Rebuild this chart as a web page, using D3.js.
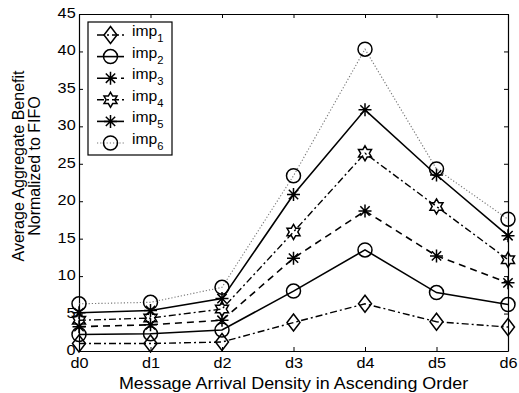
<!DOCTYPE html>
<html>
<head>
<meta charset="utf-8">
<script src="https://cdn.jsdelivr.net/npm/d3@7"></script>
<style>
  html, body { margin: 0; padding: 0; background: #fff; }
  svg { display: block; }
  text { font-family: "Liberation Sans", Arial, Helvetica, sans-serif; fill: #000; }
</style>
</head>
<body>
<svg id="chart" width="519" height="393"></svg>
<script>
// Arrival-density levels on the x axis
const categories = ["d0", "d1", "d2", "d3", "d4", "d5", "d6"];

// Average aggregate benefit (normalized to FIFO) for each improvement
const imp1 = [1.0, 1.0, 1.2, 3.8, 6.3, 3.9, 3.2];
const imp2 = [2.2, 2.3, 2.8, 8.0, 13.5, 7.8, 6.2];
const imp3 = [3.25, 3.5, 4.1, 12.4, 18.7, 12.7, 9.1];
const imp4 = [4.1, 4.4, 5.6, 15.9, 26.4, 19.3, 12.2];
const imp5 = [5.1, 5.4, 7.0, 20.9, 32.2, 23.5, 15.4];
const imp6 = [6.3, 6.5, 8.5, 23.4, 40.3, 24.3, 17.6];

const yTicks = [0, 5, 10, 15, 20, 25, 30, 35, 40, 45];
const seriesNames = ["imp1", "imp2", "imp3", "imp4", "imp5", "imp6"];

const series = [
  { name: seriesNames[0], values: imp1, dash: "7,3,2,3", width: 1.4, color: "#000", marker: "diamond" },
  { name: seriesNames[1], values: imp2, dash: null,      width: 1.6, color: "#000", marker: "circle" },
  { name: seriesNames[2], values: imp3, dash: "7,5",     width: 1.6, color: "#000", marker: "asterisk" },
  { name: seriesNames[3], values: imp4, dash: "7,3,2,3", width: 1.4, color: "#000", marker: "hexagram" },
  { name: seriesNames[4], values: imp5, dash: null,      width: 1.6, color: "#000", marker: "asterisk" },
  { name: seriesNames[5], values: imp6, dash: "1.2,2",   width: 1.1, color: "#777", marker: "circle" }
];

const svg = d3.select("#chart");
const margin = { left: 79, right: 11, top: 14, bottom: 42 };
const W = 519, H = 393;
const stretch = 1.12;

const x = d3.scalePoint().domain(categories).range([margin.left, W - margin.right]);
const y = d3.scaleLinear().domain([0, 45]).range([H - margin.bottom, margin.top]);

// Box axes with inward ticks
const axisStyle = g => {
  g.selectAll(".domain").attr("stroke", "#000").attr("stroke-width", 1.2);
  g.selectAll(".tick line").attr("stroke", "#000").attr("stroke-width", 1);
};

svg.append("g")
  .attr("transform", `translate(0,${y(0)})`)
  .call(d3.axisBottom(x).tickSize(-4).tickSizeOuter(0).tickPadding(6.5))
  .call(axisStyle)
  .call(g => g.selectAll("text")
    .attr("font-size", 14.5)
    .attr("transform", `scale(${stretch},1)`));

svg.append("g")
  .attr("transform", `translate(0,${y(45)})`)
  .call(d3.axisTop(x).tickSize(-4).tickSizeOuter(0).tickFormat(""))
  .call(axisStyle);

svg.append("g")
  .attr("transform", `translate(${x("d0")},0)`)
  .call(d3.axisLeft(y).tickValues(yTicks).tickSize(-4).tickSizeOuter(0).tickPadding(3))
  .call(axisStyle)
  .call(g => g.selectAll("text")
    .attr("font-size", 14.5)
    .attr("dy", "0.24em")
    .attr("transform", `scale(${stretch},1)`));

svg.append("g")
  .attr("transform", `translate(${x("d6")},0)`)
  .call(d3.axisRight(y).tickValues(yTicks).tickSize(-4).tickSizeOuter(0).tickFormat(""))
  .call(axisStyle);

// Marker shapes
function drawMarker(g, type, cx, cy, color) {
  const sw = 1.5;
  if (type === "circle") {
    g.append("circle").attr("cx", cx).attr("cy", cy).attr("r", 7)
      .attr("fill", "none").attr("stroke", "#000").attr("stroke-width", sw);
  } else if (type === "diamond") {
    const hw = 6.5, hh = 8.5;
    g.append("path")
      .attr("d", `M${cx},${cy - hh}L${cx + hw},${cy}L${cx},${cy + hh}L${cx - hw},${cy}Z`)
      .attr("fill", "none").attr("stroke", "#000").attr("stroke-width", sw);
  } else if (type === "asterisk") {
    const r = 6.5, d = r * 0.72;
    g.append("path")
      .attr("d", `M${cx - r},${cy}H${cx + r}M${cx},${cy - r}V${cy + r}` +
                 `M${cx - d},${cy - d}L${cx + d},${cy + d}M${cx - d},${cy + d}L${cx + d},${cy - d}`)
      .attr("fill", "none").attr("stroke", "#000").attr("stroke-width", sw);
  } else if (type === "hexagram") {
    const ro = 7.5, ri = ro * 0.577;
    const pts = d3.range(12).map(i => {
      const a = -Math.PI / 2 + i * Math.PI / 6;
      const r = i % 2 === 0 ? ro : ri;
      return [cx + r * Math.cos(a), cy + r * Math.sin(a)];
    });
    g.append("path").attr("d", "M" + pts.join("L") + "Z")
      .attr("fill", "none").attr("stroke", "#000").attr("stroke-width", sw);
  }
}

const line = d3.line().x((d, i) => x(categories[i])).y(d => y(d));

const plot = svg.append("g");
series.forEach(s => {
  plot.append("path")
    .datum(s.values)
    .attr("d", line)
    .attr("fill", "none")
    .attr("stroke", s.color)
    .attr("stroke-width", s.width)
    .attr("stroke-dasharray", s.dash);
});
series.forEach(s => {
  const mg = plot.append("g");
  s.values.forEach((v, i) => drawMarker(mg, s.marker, x(categories[i]), y(v), s.color));
});

// Legend
const lg = svg.append("g");
const lx = 88, ly = 22, lw = 84, lh = 133, step = 21.6, first = 35;
lg.append("rect").attr("x", lx).attr("y", ly).attr("width", lw).attr("height", lh)
  .attr("fill", "#fff").attr("stroke", "#000").attr("stroke-width", 1.2);
series.forEach((s, i) => {
  const cy = first + i * step;
  lg.append("line").attr("x1", 97).attr("x2", 124).attr("y1", cy).attr("y2", cy)
    .attr("stroke", s.color).attr("stroke-width", s.width)
    .attr("stroke-dasharray", s.dash);
  drawMarker(lg, s.marker, 110.5, cy, s.color);
  const t = lg.append("text")
    .attr("transform", `translate(132,${cy + 1}) scale(${stretch},1)`)
    .attr("font-size", 14);
  t.append("tspan").text(s.name.slice(0, 3));
  t.append("tspan").attr("font-size", 10).attr("dy", 6).text(s.name.slice(3));
});

// Axis titles
svg.append("text")
  .attr("transform", `translate(${(x("d0") + x("d6")) / 2},389) scale(${stretch},1)`)
  .attr("text-anchor", "middle").attr("font-size", 16)
  .text("Message Arrival Density in Ascending Order");

const yl = svg.append("text")
  .attr("transform", "translate(0,166) rotate(-90)")
  .attr("text-anchor", "middle").attr("font-size", 16);
yl.append("tspan").attr("x", 0).attr("y", 24).text("Average Aggregate Benefit");
yl.append("tspan").attr("x", 0).attr("y", 40).text("Normalized to FIFO");
</script>
</body>
</html>
